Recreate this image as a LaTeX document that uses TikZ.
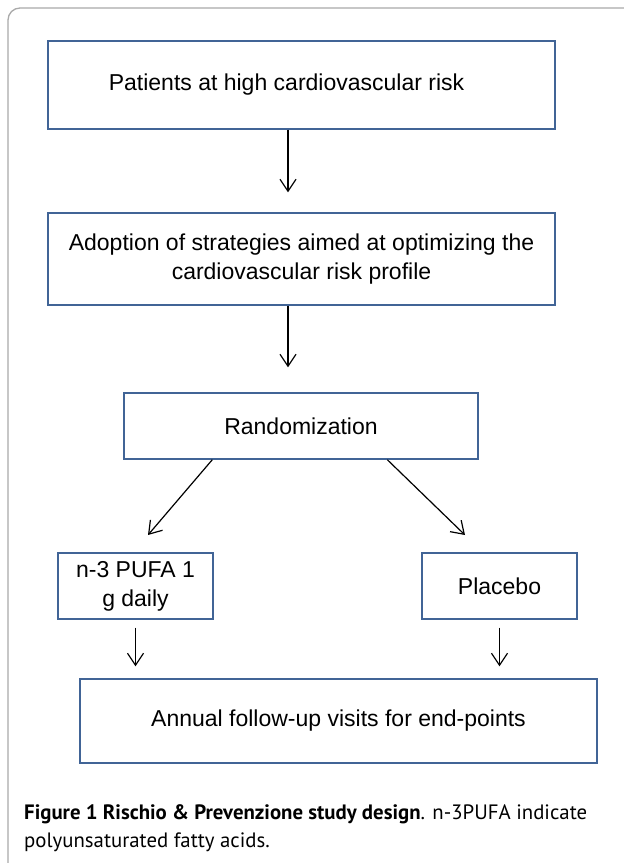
\documentclass[tikz,border=0pt]{standalone}
\usepackage{fontspec}
\setmainfont{Liberation Sans}
\newfontfamily\capfont{PT Sans}
\usetikzlibrary{arrows.meta,calc}
\definecolor{boxblue}{RGB}{65,100,150}
\definecolor{framegrey}{RGB}{170,170,170}
\tikzset{
  flowbox/.style={draw=boxblue,line width=1.4pt,rectangle,inner sep=0pt,align=center,
    font=\fontsize{23}{29}\selectfont},
  flowarrow/.style={line width=1.2pt,-{Straight Barb[length=12pt,width=16pt,line width=1.2pt]}}
}
\begin{document}
\begin{tikzpicture}[x=1pt,y=-1pt]
\useasboundingbox (0,0) rectangle (624,863);
\fill[white] (0,0) rectangle (624,863);
\draw[framegrey,line width=1.3pt,rounded corners=12pt] (8,870) -- (8,8) -- (630,8);

\node[flowbox,minimum width=507pt,minimum height=88pt] (p) at (301.5,85) {Patients at high cardiovascular risk\hspace*{30pt}};
\node[flowbox,minimum width=507pt,minimum height=92pt] (a) at (301.5,259) {Adoption of strategies aimed at optimizing the\\cardiovascular risk profile};
\node[flowbox,minimum width=354pt,minimum height=66pt] (r) at (301,426) {Randomization};
\node[flowbox,minimum width=155pt,minimum height=66pt] (n) at (135.5,586) {n-3 PUFA 1\\g daily};
\node[flowbox,minimum width=155pt,minimum height=66pt] (pl) at (499.5,586) {Placebo};
\node[flowbox,minimum width=517pt,minimum height=84pt] (f) at (338.5,721) {Annual follow-up visits for end-points};

\coordinate (d1) at (148,535);
\coordinate (d2) at (465,535);

\draw[flowarrow,shorten >=20pt] (p.south -| 288,0) -- (a.north -| 288,0);
\draw[flowarrow,shorten >=25pt] (a.south -| 288,0) -- (r.north -| 288,0);
\draw[flowarrow] ([xshift=89pt]r.south west) -- (d1);
\draw[flowarrow] ([xshift=264pt]r.south west) -- (d2);
\draw[flowarrow,shorten <=8pt,shorten >=12pt] (n.south) -- (n.south |- f.north);
\draw[flowarrow,shorten <=8pt,shorten >=12pt] (pl.south) -- (pl.south |- f.north);

\node[anchor=base west,inner sep=0pt,align=left,font=\capfont\fontsize{20.8}{28}\selectfont] (cap) at (24,847)
  {\textbf{Figure 1 Rischio \& Prevenzione study design}. n-3PUFA indicate\\polyunsaturated fatty acids.};
\end{tikzpicture}
\end{document}
